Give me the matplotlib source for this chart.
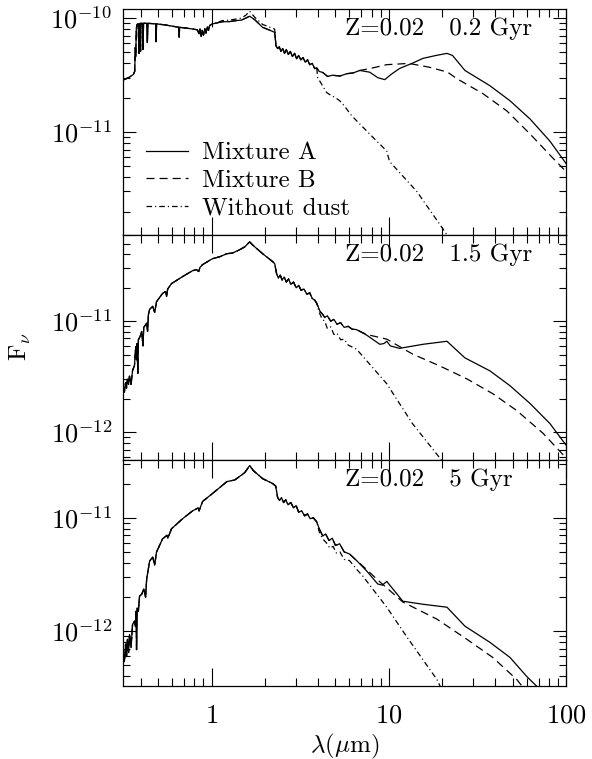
#!/usr/bin/env python3
"""Spectral energy distributions of Z=0.02 populations with and without dust shells."""

import math

import matplotlib

matplotlib.use("Agg")
import matplotlib.pyplot as plt
from matplotlib.ticker import FuncFormatter, LogLocator, NullFormatter

# ---------------------------------------------------------------- 0.2 Gyr
# stellar photosphere, common to every model (wavelength in micron, F_nu)
WAVE_UV_02 = [0.315, 0.340, 0.362, 0.368, 0.371, 0.373, 0.376, 0.380, 0.385, 0.389,
              0.392, 0.395, 0.397, 0.399, 0.407, 0.410, 0.413, 0.431, 0.434, 0.437,
              0.483, 0.486, 0.489, 0.55, 0.60, 0.652, 0.656, 0.660, 0.75, 0.83,
              0.85, 0.86, 0.875, 0.885, 0.90, 0.915, 0.93, 0.945, 0.96, 0.975]
FLUX_UV_02 = [2.85e-11, 3.0e-11, 3.2e-11, 3.4e-11, 5.5e-11, 4.6e-11, 8.2e-11, 8.8e-11, 8.9e-11, 4.9e-11,
              8.9e-11, 9.0e-11, 5.1e-11, 9.0e-11, 9.0e-11, 5.3e-11, 9.0e-11, 9.0e-11, 6.1e-11, 9.0e-11,
              8.9e-11, 6.2e-11, 8.9e-11, 8.7e-11, 8.5e-11, 8.3e-11, 6.8e-11, 8.3e-11, 8.1e-11, 7.9e-11,
              7.3e-11, 8.0e-11, 6.9e-11, 7.8e-11, 7.1e-11, 8.1e-11, 7.4e-11, 8.4e-11, 7.8e-11, 8.6e-11]
# near-IR bump: the dust-free model sits a little higher
WAVE_NIR_02 = [1.0, 1.08, 1.15, 1.25, 1.37, 1.47, 1.56, 1.64, 1.75, 1.94, 2.10, 2.27]
FLUX_NIR_DUSTY_02 = [8.85e-11, 9.1e-11, 9.3e-11, 9.3e-11, 9.5e-11, 9.6e-11, 1.0e-10, 1.04e-10,
                     9.7e-11, 8.3e-11, 7.9e-11, 7.5e-11]
FLUX_NIR_FREE_02 = [8.85e-11, 9.2e-11, 9.5e-11, 9.6e-11, 9.8e-11, 1.0e-10, 1.06e-10, 1.15e-10,
                    1.02e-10, 8.8e-11, 8.4e-11, 8.0e-11]
WAVE_MIR_02 = [2.31, 2.36, 2.41, 2.46, 2.52, 2.58, 2.64, 2.71, 2.78, 2.86, 2.94, 3.02,
               3.10, 3.19, 3.28, 3.38, 3.48, 3.58, 3.70, 3.82, 3.92]
FLUX_MIR_02 = [5.7e-11, 5.4e-11, 5.6e-11, 5.1e-11, 5.4e-11, 4.9e-11, 5.3e-11, 4.8e-11, 5.1e-11,
               4.6e-11, 4.9e-11, 4.4e-11, 4.7e-11, 4.3e-11, 4.5e-11, 4.1e-11, 4.3e-11, 3.9e-11,
               4.0e-11, 3.6e-11, 3.65e-11]
# shell emission shared by both dust mixtures
WAVE_SHELL_02 = [4.05, 4.24, 4.52, 4.8, 5.3, 5.8, 6.3, 6.86]
FLUX_SHELL_02 = [3.4e-11, 3.33e-11, 3.07e-11, 3.15e-11, 3.1e-11, 3.25e-11, 3.3e-11, 3.47e-11]
WAVE_A_02 = [7.8, 8.66, 9.49, 10.3, 11.5, 13.5, 15.6, 18.5, 21.3, 22.9, 26.9, 37.2,
             48.3, 62.7, 81.2, 100.0, 110.0]
FLUX_A_02 = [3.35e-11, 3.0e-11, 2.88e-11, 3.2e-11, 3.61e-11, 4.0e-11, 4.43e-11, 4.7e-11, 4.9e-11,
             4.7e-11, 3.47e-11, 2.55e-11, 1.88e-11, 1.30e-11, 8.3e-12, 5.3e-12, 4.3e-12]
WAVE_B_02 = [7.8, 9.74, 13.0, 17.0, 21.5, 24.2, 34.0, 46.4, 62.7, 84.3, 100.0, 110.0]
FLUX_B_02 = [3.6e-11, 3.9e-11, 4.0e-11, 3.7e-11, 3.35e-11, 2.94e-11, 2.17e-11, 1.53e-11,
             9.6e-12, 5.9e-12, 4.5e-12, 3.8e-12]
WAVE_FREE_02 = [3.97, 4.46, 4.7, 5.0, 5.28, 5.6, 6.17, 7.03, 8.55, 9.74, 10.1, 14.4, 20.2, 22.5]
FLUX_FREE_02 = [3.0e-11, 2.22e-11, 2.1e-11, 2.0e-11, 1.88e-11, 1.7e-11, 1.39e-11, 1.13e-11,
                8.3e-12, 6.8e-12, 5.5e-12, 3.0e-12, 1.41e-12, 1.1e-12]

# ---------------------------------------------------------------- 1.5 Gyr
WAVE_STAR_15 = [0.314, 0.318, 0.322, 0.327, 0.331, 0.335, 0.340, 0.344, 0.351, 0.358,
                0.367, 0.373, 0.377, 0.380, 0.383, 0.386, 0.395, 0.403, 0.410, 0.414,
                0.430, 0.435, 0.440, 0.447, 0.465, 0.477, 0.489, 0.529, 0.55, 0.557,
                0.565, 0.594, 0.686, 0.732, 0.781, 0.823, 0.845, 0.86, 0.889, 1.01,
                1.11, 1.22, 1.31, 1.44, 1.54, 1.64, 1.70, 1.94, 2.21, 2.27,
                2.33, 2.38, 2.44, 2.50, 2.57, 2.64, 2.72, 2.80, 2.90, 3.00,
                3.10, 3.20, 3.32, 3.45, 3.58, 3.70, 3.82, 3.92]
FLUX_STAR_15 = [2.0e-12, 2.6e-12, 2.3e-12, 2.8e-12, 2.5e-12, 3.0e-12, 2.7e-12, 3.2e-12, 2.7e-12, 3.6e-12,
                4.0e-12, 5.9e-12, 4.5e-12, 6.3e-12, 3.4e-12, 6.8e-12, 7.3e-12, 8.1e-12, 6.0e-12, 8.8e-12,
                9.6e-12, 8.1e-12, 1.15e-11, 1.28e-11, 1.36e-11, 1.2e-11, 1.5e-11, 1.78e-11, 1.85e-11, 1.67e-11,
                1.95e-11, 2.18e-11, 2.52e-11, 2.68e-11, 2.85e-11, 2.91e-11, 2.8e-11, 3.05e-11, 3.23e-11, 3.65e-11,
                3.8e-11, 4.05e-11, 4.1e-11, 4.4e-11, 4.67e-11, 5.18e-11, 4.87e-11, 4.05e-11, 3.44e-11, 3.3e-11,
                2.65e-11, 2.45e-11, 2.6e-11, 2.35e-11, 2.5e-11, 2.25e-11, 2.4e-11, 2.15e-11, 2.25e-11, 2.0e-11,
                2.1e-11, 1.9e-11, 1.95e-11, 1.75e-11, 1.8e-11, 1.6e-11, 1.55e-11, 1.45e-11]
WAVE_SHELL_15 = [4.1, 4.24, 4.35, 4.5, 4.7, 4.9, 5.1, 5.35, 5.6, 5.9, 6.2, 6.58]
FLUX_SHELL_15 = [1.22e-11, 1.15e-11, 1.08e-11, 1.12e-11, 1.0e-11, 1.04e-11, 9.4e-12, 9.7e-12,
                 8.8e-12, 9.0e-12, 8.5e-12, 8.4e-12]
WAVE_A_15 = [7.5, 8.9, 9.4, 9.74, 10.2, 11.5, 15.6, 21.3, 26.9, 37.2, 48.3, 62.7, 81.2, 100.0, 110.0]
FLUX_A_15 = [7.5e-12, 6.2e-12, 6.3e-12, 6.6e-12, 6.0e-12, 5.7e-12, 6.2e-12, 6.6e-12, 4.68e-12,
             3.58e-12, 2.63e-12, 1.82e-12, 1.20e-12, 7.7e-13, 6.5e-13]
WAVE_B_15 = [7.5, 9.74, 13.6, 19.4, 27.6, 38.6, 52.8, 74.3, 100.0, 110.0]
FLUX_B_15 = [7.6e-12, 6.9e-12, 5.07e-12, 3.96e-12, 3.03e-12, 2.23e-12, 1.57e-12, 9.8e-13, 5.9e-13, 5.0e-13]
WAVE_FREE_15 = [4.05, 4.2, 4.35, 4.5, 4.7, 4.9, 5.1, 5.35, 5.6, 5.9, 6.58, 9.74, 13.6, 19.9, 21.0]
FLUX_FREE_15 = [1.2e-11, 1.05e-11, 1.0e-11, 8.6e-12, 8.9e-12, 7.6e-12, 7.8e-12, 6.8e-12, 6.9e-12,
                6.1e-12, 5.6e-12, 2.74e-12, 1.20e-12, 5.6e-13, 5.0e-13]

# ---------------------------------------------------------------- 5 Gyr
WAVE_STAR_5 = [0.314, 0.318, 0.322, 0.327, 0.331, 0.335, 0.340, 0.344, 0.351, 0.358,
               0.367, 0.372, 0.375, 0.377, 0.380, 0.386, 0.392, 0.403, 0.414, 0.424,
               0.430, 0.447, 0.465, 0.477, 0.489, 0.529, 0.56, 0.566, 0.594, 0.686,
               0.781, 0.84, 0.85, 0.889, 1.01, 1.22, 1.35, 1.44, 1.54, 1.64,
               1.72, 1.94, 2.21, 2.30, 2.36, 2.42, 2.48, 2.55, 2.62, 2.70,
               2.80, 2.90, 3.00, 3.10, 3.22, 3.35, 3.48, 3.60, 3.75, 3.92]
FLUX_STAR_5 = [4.6e-13, 6.3e-13, 5.4e-13, 7.7e-13, 6.0e-13, 8.5e-13, 6.5e-13, 9.4e-13, 7.2e-13, 1.15e-12,
               1.23e-12, 1.1e-12, 1.5e-12, 6.9e-13, 1.6e-12, 1.5e-12, 2.04e-12, 2.12e-12, 2.35e-12, 2.0e-12,
               2.88e-12, 4.16e-12, 4.5e-12, 3.84e-12, 5.0e-12, 6.52e-12, 7.0e-12, 6.6e-12, 8.0e-12, 9.8e-12,
               1.15e-11, 1.22e-11, 1.15e-11, 1.39e-11, 1.63e-11, 2.08e-11, 2.15e-11, 2.31e-11, 2.5e-11, 2.88e-11,
               2.6e-11, 2.21e-11, 2.0e-11, 1.9e-11, 1.5e-11, 1.42e-11, 1.5e-11, 1.36e-11, 1.44e-11, 1.3e-11,
               1.36e-11, 1.22e-11, 1.28e-11, 1.12e-11, 1.15e-11, 1.04e-11, 1.08e-11, 9.8e-12, 1.0e-11, 9.2e-12]
WAVE_SHELL_5 = [4.05, 4.24, 4.4, 4.6, 4.8, 5.0, 5.28, 5.6, 6.0, 6.58]
FLUX_SHELL_5 = [8.0e-12, 6.9e-12, 7.2e-12, 6.3e-12, 6.6e-12, 5.7e-12, 5.9e-12, 5.0e-12, 4.8e-12, 4.2e-12]
WAVE_A_5 = [7.5, 8.66, 9.2, 9.74, 12.0, 15.6, 21.3, 26.9, 37.2, 48.3, 60.1, 71.5, 80.0]
FLUX_A_5 = [3.4e-12, 2.61e-12, 2.55e-12, 2.75e-12, 1.84e-12, 1.73e-12, 1.63e-12, 1.11e-12,
            8.0e-13, 5.89e-13, 4.0e-13, 3.07e-13, 2.5e-13]
WAVE_B_5 = [7.5, 8.56, 12.0, 18.7, 27.6, 38.6, 52.8, 58.6, 65.0]
FLUX_B_5 = [3.5e-12, 2.88e-12, 1.81e-12, 1.28e-12, 8.5e-13, 5.89e-13, 3.76e-13, 3.07e-13, 2.6e-13]
WAVE_FREE_5 = [4.05, 4.24, 4.45, 4.65, 4.85, 5.05, 5.3, 5.6, 6.0, 6.6, 7.13, 9.74, 12.6, 18.7, 19.9, 21.0]
FLUX_FREE_5 = [7.5e-12, 6.5e-12, 6.0e-12, 5.4e-12, 5.6e-12, 4.9e-12, 5.0e-12, 4.3e-12, 4.2e-12,
               3.5e-12, 3.07e-12, 1.63e-12, 9.0e-13, 3.76e-13, 3.07e-13, 2.7e-13]

PANEL_LABELS = ["Z=0.02   0.2 Gyr", "Z=0.02   1.5 Gyr", "Z=0.02   5 Gyr"]
Y_LIMITS = [(1.25e-12, 1.2e-10), (5.6e-13, 6.0e-11), (3.3e-13, 3.2e-11)]
X_LIMITS = (10 ** -0.5, 100.0)
X_MAJOR = [1, 10, 100]

TEXT_FONT = "cmr10"


def build_series():
    """Return (mixture A, mixture B, dust free) wavelength/flux lists per panel."""
    young_dusty = WAVE_UV_02 + WAVE_NIR_02 + WAVE_MIR_02, FLUX_UV_02 + FLUX_NIR_DUSTY_02 + FLUX_MIR_02
    young_free = WAVE_UV_02 + WAVE_NIR_02 + WAVE_MIR_02, FLUX_UV_02 + FLUX_NIR_FREE_02 + FLUX_MIR_02
    panels = [
        (young_dusty, young_free, (WAVE_SHELL_02, FLUX_SHELL_02),
         (WAVE_A_02, FLUX_A_02), (WAVE_B_02, FLUX_B_02), (WAVE_FREE_02, FLUX_FREE_02)),
        ((WAVE_STAR_15, FLUX_STAR_15), (WAVE_STAR_15, FLUX_STAR_15), (WAVE_SHELL_15, FLUX_SHELL_15),
         (WAVE_A_15, FLUX_A_15), (WAVE_B_15, FLUX_B_15), (WAVE_FREE_15, FLUX_FREE_15)),
        ((WAVE_STAR_5, FLUX_STAR_5), (WAVE_STAR_5, FLUX_STAR_5), (WAVE_SHELL_5, FLUX_SHELL_5),
         (WAVE_A_5, FLUX_A_5), (WAVE_B_5, FLUX_B_5), (WAVE_FREE_5, FLUX_FREE_5)),
    ]
    out = []
    for dusty, free, shell, tail_a, tail_b, tail_free in panels:
        mix_a = (dusty[0] + shell[0] + tail_a[0], dusty[1] + shell[1] + tail_a[1])
        mix_b = (dusty[0] + shell[0] + tail_b[0], dusty[1] + shell[1] + tail_b[1])
        no_dust = (free[0] + tail_free[0], free[1] + tail_free[1])
        out.append((mix_a, mix_b, no_dust))
    return out


def power_label(value, _pos):
    return f"$10^{{{round(math.log10(value))}}}$"


def style_axes(ax, ylim):
    ax.set_xscale("log")
    ax.set_yscale("log")
    ax.set_xlim(*X_LIMITS)
    ax.set_ylim(*ylim)
    # only label the decades that fall inside the panel
    lo, hi = math.ceil(math.log10(ylim[0])), math.floor(math.log10(ylim[1]))
    ax.set_yticks([10.0 ** k for k in range(lo, hi + 1)])
    ax.set_xticks(X_MAJOR)
    ax.xaxis.set_minor_locator(LogLocator(base=10, subs=range(2, 10)))
    ax.yaxis.set_minor_locator(LogLocator(base=10, subs=range(2, 10)))
    ax.xaxis.set_major_formatter(FuncFormatter(lambda v, _: f"${v:g}$"))
    ax.yaxis.set_major_formatter(FuncFormatter(power_label))
    ax.xaxis.set_minor_formatter(NullFormatter())
    ax.yaxis.set_minor_formatter(NullFormatter())
    ax.set_xlim(*X_LIMITS)
    ax.set_ylim(*ylim)
    ax.tick_params(which="both", direction="in", top=True, right=True, width=0.8, labelsize=19)
    ax.tick_params(axis="x", which="major", length=13, pad=12)
    ax.tick_params(axis="x", which="minor", length=5.8)
    ax.tick_params(axis="y", which="major", length=9.4, pad=8)
    ax.tick_params(axis="y", which="minor", length=5)
    for spine in ax.spines.values():
        spine.set_linewidth(0.9)


def main():
    plt.rcParams["mathtext.fontset"] = "cm"
    plt.rcParams["lines.scale_dashes"] = False

    fig, axes = plt.subplots(3, 1, sharex=True, figsize=(5.92, 7.59), dpi=100)
    fig.subplots_adjust(left=0.2078, right=0.956, top=0.988, bottom=0.0962, hspace=0)

    dashed = (0, (5.8, 3.6))
    dash_dot = (0, (4.0, 2.2, 0.8, 2.2))

    for ax, (mix_a, mix_b, no_dust), label, ylim in zip(axes, build_series(), PANEL_LABELS, Y_LIMITS):
        ax.plot(*no_dust, color="black", lw=0.9, linestyle=dash_dot, label="Without dust")
        ax.plot(*mix_b, color="black", lw=0.9, linestyle=dashed, label="Mixture B")
        ax.plot(*mix_a, color="black", lw=0.9, linestyle="-", label="Mixture A")
        style_axes(ax, ylim)
        ax.text(0.501, 0.885, label, transform=ax.transAxes, ha="left", va="baseline",
                fontsize=18, family=TEXT_FONT)
        if ax is not axes[-1]:
            ax.tick_params(axis="x", which="both", labelbottom=False)

    handles, labels = axes[0].get_legend_handles_labels()
    axes[0].legend(handles[::-1], labels[::-1], loc="upper left", bbox_to_anchor=(0.052, 0.412),
                   frameon=False, prop={"family": TEXT_FONT, "size": 18}, handlelength=1.68,
                   handletextpad=0.56, labelspacing=0.2, borderpad=0, borderaxespad=0)

    axes[-1].set_xlabel(r"$\lambda(\mu\mathrm{m})$", fontsize=18, labelpad=2)
    fig.text(20 / 592, 1 - 347 / 759, r"$\mathrm{F}_{\nu}$", rotation=90, fontsize=18,
             ha="center", va="center")

    fig.savefig("out.png", dpi=100)


if __name__ == "__main__":
    main()
